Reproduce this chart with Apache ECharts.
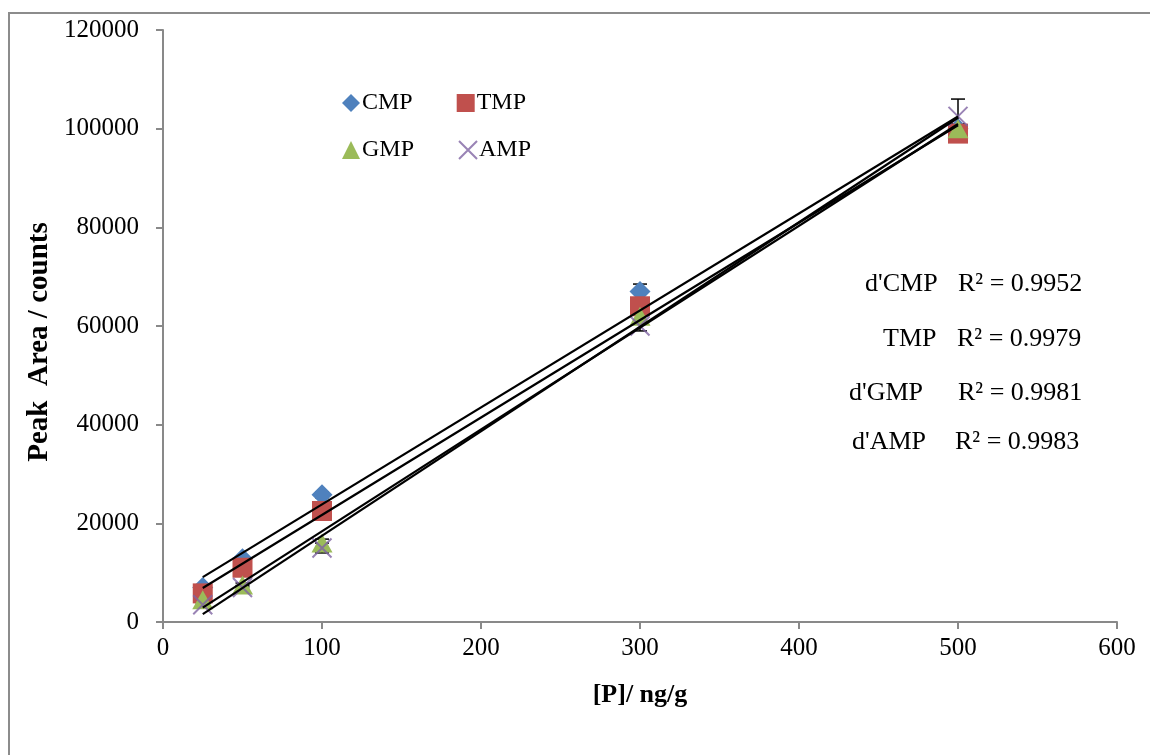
<!DOCTYPE html>
<html>
<head>
<meta charset="utf-8">
<script src="https://cdn.jsdelivr.net/npm/echarts@6/dist/echarts.min.js"></script>
<style>
html,body{margin:0;padding:0;background:#fff;}
#chart{width:1150px;height:755px;}
</style>
</head>
<body>
<div id="chart"></div>
<script>
// ---- data ----
const xValues = [25, 50, 100, 300, 500];
const seriesNames = ['CMP', 'TMP', 'GMP', 'AMP'];
const cmpValues = [7000, 12800, 25800, 67000, 100000];
const tmpValues = [5800, 11000, 22500, 64000, 99000];
const gmpValues = [4500, 7500, 16000, 62000, 100000];
const ampValues = [3500, 7000, 15000, 60000, 102500];
const cmpErr = [300, 400, 600, 1500, 1000];
const tmpErr = [300, 400, 800, 1500, 1000];
const gmpErr = [300, 400, 800, 1200, 1000];
const ampErr = [300, 400, 1000, 1000, 3500];
const r2Names = ["d'CMP", 'TMP', "d'GMP", "d'AMP"];
const r2Values = ['0.9952', '0.9979', '0.9981', '0.9983'];
const xAxisTitle = '[P]/ ng/g';
const yAxisTitle = 'Peak  Area / counts';

const allValues = [cmpValues, tmpValues, gmpValues, ampValues];
const allErr = [cmpErr, tmpErr, gmpErr, ampErr];
const colors = ['#4F81BD', '#C0504D', '#9BBB59', '#8064A2'];
const symbols = ['diamond', 'rect', 'triangle', 'path://M0,0L10,10M10,0L0,10'];
const symbolSizes = [[21, 21], [20, 20], [21, 19], [19, 19]];

function linFit(xs, ys) {
  const n = xs.length;
  const mx = xs.reduce((a, b) => a + b, 0) / n;
  const my = ys.reduce((a, b) => a + b, 0) / n;
  let sxy = 0, sxx = 0;
  for (let i = 0; i < n; i++) { sxy += (xs[i] - mx) * (ys[i] - my); sxx += (xs[i] - mx) ** 2; }
  const b = sxy / sxx;
  return { a: my - b * mx, b: b };
}

const FONT = "'Liberation Serif', 'Times New Roman', serif";
const series = [];

// error bars (drawn beneath markers)
allValues.forEach((ys, i) => {
  series.push({
    name: seriesNames[i] + ' err',
    type: 'custom',
    silent: true,
    data: xValues.map((x, j) => [x, ys[j] - allErr[i][j], ys[j] + allErr[i][j]]),
    renderItem: function (params, api) {
      const lo = api.coord([api.value(0), api.value(1)]);
      const hi = api.coord([api.value(0), api.value(2)]);
      const w = 7;
      const st = { stroke: '#000', lineWidth: 1.5 };
      return {
        type: 'group',
        children: [
          { type: 'line', shape: { x1: lo[0], y1: lo[1], x2: hi[0], y2: hi[1] }, style: st },
          { type: 'line', shape: { x1: hi[0] - w, y1: hi[1], x2: hi[0] + w, y2: hi[1] }, style: st },
          { type: 'line', shape: { x1: lo[0] - w, y1: lo[1], x2: lo[0] + w, y2: lo[1] }, style: st }
        ]
      };
    },
    z: 1
  });
});

// scatter markers
allValues.forEach((ys, i) => {
  const isCross = i === 3;
  series.push({
    name: seriesNames[i],
    type: 'scatter',
    data: xValues.map((x, j) => [x, ys[j]]),
    symbol: symbols[i],
    symbolSize: symbolSizes[i],
    itemStyle: isCross
      ? { color: 'rgba(0,0,0,0)', borderColor: colors[i], borderWidth: 2 }
      : { color: colors[i], opacity: 1 },
    z: 2 + i * 0.1
  });
});

// trend lines (on top)
allValues.forEach((ys, i) => {
  const f = linFit(xValues, ys);
  const x0 = xValues[0], x1 = xValues[xValues.length - 1];
  series.push({
    name: seriesNames[i] + ' trend',
    type: 'line',
    data: [[x0, f.a + f.b * x0], [x1, f.a + f.b * x1]],
    symbol: 'none',
    silent: true,
    lineStyle: { color: '#000', width: 2.2 },
    z: 3
  });
});

const rowY = [284, 339, 393, 442];
const nameX = [865, 883, 849, 852];
const r2X = [958, 957, 958, 955];
const graphics = [
  { type: 'rect', shape: { x: 9, y: 13, width: 1300, height: 900 }, style: { fill: 'none', stroke: '#8c8c8c', lineWidth: 2 }, silent: true, z: -1 },
  { type: 'text', x: 40, y: 342, rotation: Math.PI / 2,
    style: { text: yAxisTitle, font: 'bold 29px ' + FONT, fill: '#000', align: 'center', verticalAlign: 'middle' } }
];
r2Names.forEach((n, i) => {
  graphics.push({ type: 'text', x: nameX[i], y: rowY[i], style: { text: n, font: '26px ' + FONT, fill: '#000', verticalAlign: 'middle' } });
  graphics.push({ type: 'text', x: r2X[i], y: rowY[i], style: { text: 'R² = ' + r2Values[i], font: '26px ' + FONT, fill: '#000', verticalAlign: 'middle' } });
});

const axisCommon = {
  axisLine: { show: true, lineStyle: { color: '#898989', width: 2 } },
  axisTick: { show: true, length: 7, lineStyle: { color: '#898989', width: 2 } },
  splitLine: { show: false }
};

const legendCommon = {
  orient: 'horizontal',
  itemWidth: 18,
  itemHeight: 18,
  itemGap: 44,
  textStyle: { fontFamily: FONT, fontSize: 24, color: '#000', padding: [0, 0, 0, -3] },
  selectedMode: false
};

const option = {
  animation: false,
  backgroundColor: '#fff',
  grid: { left: 163, right: 33, top: 30, bottom: 133, containLabel: false },
  legend: [
    Object.assign({ data: ['CMP', 'TMP'], left: 337, top: 86 }, legendCommon),
    Object.assign({ data: ['GMP', 'AMP'], left: 337, top: 133 }, legendCommon)
  ],
  xAxis: Object.assign({
    type: 'value', min: 0, max: 600, interval: 100,
    name: xAxisTitle, nameLocation: 'middle', nameGap: 60,
    nameTextStyle: { fontFamily: FONT, fontSize: 26, fontWeight: 'bold', color: '#000' },
    axisLabel: { color: '#000', fontFamily: FONT, fontSize: 25, margin: 14, formatter: v => String(v) }
  }, axisCommon),
  yAxis: Object.assign({
    type: 'value', min: 0, max: 120000, interval: 20000,
    axisLabel: { color: '#000', fontFamily: FONT, fontSize: 25, margin: 24, formatter: v => String(v) }
  }, axisCommon),
  graphic: graphics,
  series: series
};

const chart = echarts.init(document.getElementById('chart'), null, { renderer: 'canvas' });
chart.setOption(option);
</script>
</body>
</html>
